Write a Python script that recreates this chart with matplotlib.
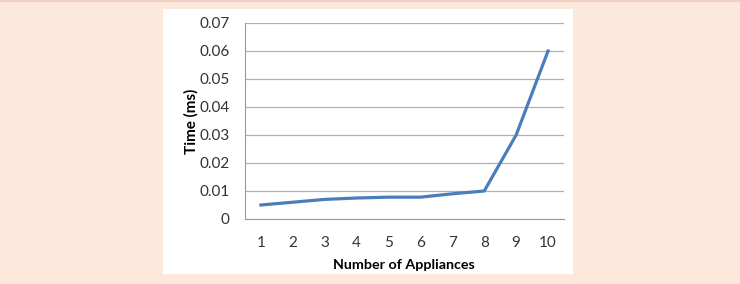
import matplotlib.pyplot as plt
from matplotlib.patches import Rectangle

appliances = [1, 2, 3, 4, 5, 6, 7, 8, 9, 10]
time_ms = [0.005, 0.006, 0.007, 0.0075, 0.0078, 0.0078, 0.009, 0.010, 0.030, 0.060]
y_ticks = [0, 0.01, 0.02, 0.03, 0.04, 0.05, 0.06, 0.07]
y_labels = ['0', '0.01', '0.02', '0.03', '0.04', '0.05', '0.06', '0.07']

W, H = 740, 284
fig = plt.figure(figsize=(W / 100, H / 100), dpi=100)
fig.patch.set_facecolor('#fce9dc')

# white chart panel
fig.patches.append(Rectangle((163 / W, 1 - 274 / H), (573 - 163) / W, (274 - 9) / H,
                             transform=fig.transFigure, facecolor='white',
                             edgecolor='none', zorder=-5))
# thin top border
fig.add_artist(plt.Line2D([0, 1], [1 - 1 / H, 1 - 1 / H], transform=fig.transFigure,
                          color='#f2cfc4', lw=1.5, zorder=-5))

ax = fig.add_axes([245 / W, 1 - 219 / H, (564 - 245) / W, (219 - 23) / H])
ax.set_zorder(2)
ax.set_facecolor('none')

ax.plot(appliances, time_ms, color='#4a7ebb', lw=2.3, solid_joinstyle='round', zorder=3)

ax.set_xlim(0.5, 10.5)
ax.set_ylim(0, 0.07)
ax.set_xticks(appliances)
ax.set_xticklabels([str(a) for a in appliances])
ax.set_yticks(y_ticks)
ax.set_yticklabels(y_labels)
ax.grid(axis='y', color='#b0b0b0', lw=0.9)
ax.set_axisbelow(True)

for s in ['top', 'right']:
    ax.spines[s].set_visible(False)
ax.spines['left'].set_color('#9a9a9a')
ax.spines['bottom'].set_color('#9a9a9a')
ax.tick_params(axis='both', length=0, labelsize=11, colors='#333333')
ax.tick_params(axis='y', pad=11)
ax.tick_params(axis='x', pad=12)
for lab in ax.get_xticklabels() + ax.get_yticklabels():
    lab.set_family('Lato')

ax.set_xlabel('Number of Appliances', fontsize=10.3, fontweight='bold',
              family='Lato')
ax.xaxis.set_label_coords(404 / W, 1 - 265 / H, transform=fig.transFigure)
ax.set_ylabel('Time (ms)', fontsize=11, fontweight='bold', family='Lato')
ax.yaxis.set_label_coords(191 / W, 1 - 121 / H, transform=fig.transFigure)
ax.yaxis.label.set_va('center')
ax.xaxis.label.set_va('center')

fig.savefig('out.png', dpi=100, facecolor=fig.get_facecolor())
